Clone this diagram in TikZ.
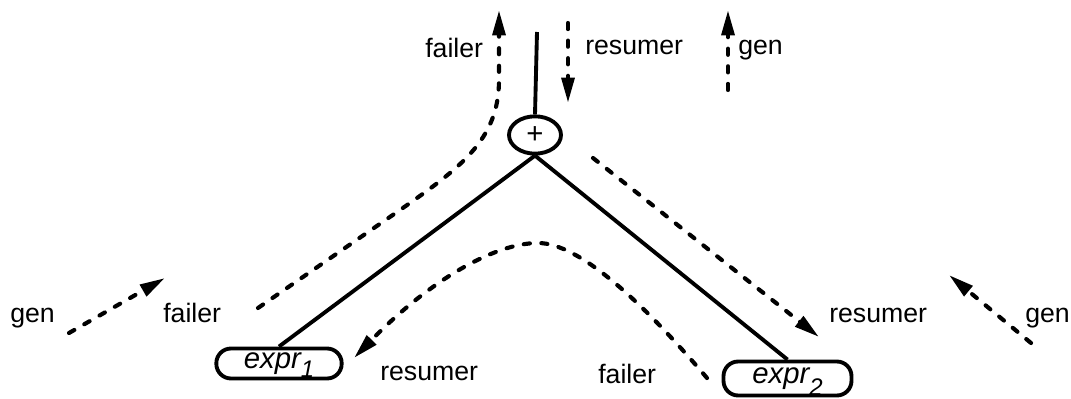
\documentclass[tikz,border=0pt]{standalone}
\usepackage{fontspec}
\setmainfont{Liberation Sans}
\usetikzlibrary{arrows.meta,shapes.geometric}
% lowered subscript that does not change the box size of the node text
\newcommand\exprsub[2]{\raisebox{#1}[0pt][0pt]{\fontsize{18}{18}\selectfont\itshape #2}}
\begin{document}
\begin{tikzpicture}[x=0.75pt,y=-0.75pt,
  lbl/.style={font=\fontsize{20}{24}\selectfont, inner sep=0pt, anchor=base west},
  solidline/.style={line width=2.9pt},
  flowline/.style={line width=3.1pt, line cap=round, dash pattern=on 4.6pt off 8.6pt},
  flow/.style={flowline, -{Triangle[length=19pt,width=9.5pt]}},
  exprbox/.style={draw, line width=2.9pt, rounded corners=11pt, inner sep=0pt,
    font=\fontsize{22}{24}\selectfont\itshape}
]
\useasboundingbox (0,0) rectangle (1071,399);

% operator and operand nodes
\node[draw, ellipse, line width=2.9pt, minimum width=39pt, minimum height=28pt,
      inner sep=0pt, font=\fontsize{22}{24}\selectfont] (plus) at (535,135) {+};
\node[exprbox, minimum width=94pt, minimum height=22.5pt] (e1) at (279,363.5) {expr\exprsub{-0.3em}{1}};
\node[exprbox, minimum width=96pt, minimum height=25.5pt] (e2) at (787.5,378.5) {expr\exprsub{-0.4em}{2}};

% tree edges
\coordinate (stemtop) at (537,32);
\draw[solidline] (stemtop) -- (plus.north);
\draw[solidline] (plus.south) -- (e1.north);
\draw[solidline] (plus.south) -- (e2.north);

% signal flows
\coordinate (failLa) at (258,308);
\coordinate (failLb) at (400,210);
\coordinate (failLtip) at (499,10);
\draw[flow] (failLa) -- (failLb) .. controls (460,168) and (499,140) .. (499,80) -- (failLtip);

\coordinate (resTa) at (568,23);
\coordinate (resTtip) at (568,103);
\draw[flow] (resTa) -- (resTtip);

\coordinate (genTa) at (728,90);
\coordinate (genTtip) at (728,10);
\draw[flow] (genTa) -- (genTtip);

\coordinate (genLa) at (69,333);
\coordinate (genLtip) at (165,278);
\draw[flow] (genLa) -- (genLtip);

\coordinate (genRa) at (1031,343);
\coordinate (genRtip) at (949,275);
\draw[flow] (genRa) -- (genRtip);

\coordinate (resRa) at (593,158);
\coordinate (resRtip) at (819,337);
\draw[flow] (resRa) -- (resRtip);

\coordinate (failBa) at (707,378);
\coordinate (failBpeak) at (538,243);
\coordinate (failBtip) at (354,358);
\draw[flow] (failBa) .. controls (645,305) and (580,243) .. (failBpeak)
  .. controls (495,243) and (430,280) .. (failBtip);

% labels
\node[lbl] (lfailtop) at (425,58) {failer};
\node[lbl] (lrestop) at (585,55) {resumer};
\node[lbl] (lgentop) at (738,55) {gen};
\node[lbl] (lgenL) at (10,322) {gen};
\node[lbl] (lfailL) at (163,322) {failer};
\node[lbl] (lresR) at (829,322) {resumer};
\node[lbl] (lgenR) at (1025,322) {gen};
\node[lbl] (lresB) at (380,380) {resumer};
\node[lbl] (lfailB) at (598,383) {failer};
\end{tikzpicture}
\end{document}
